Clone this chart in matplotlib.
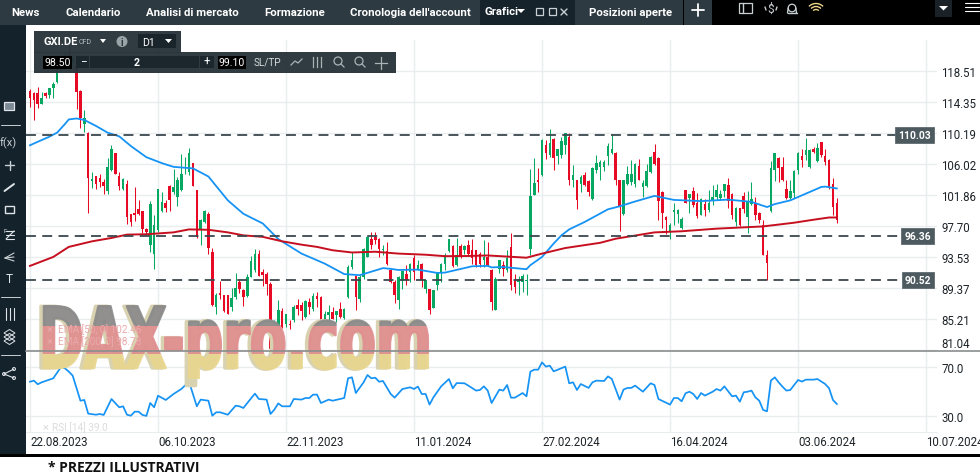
import matplotlib
matplotlib.use("Agg")
import matplotlib.pyplot as plt
from matplotlib.patches import Rectangle, Circle, Arc
from matplotlib.patheffects import AbstractPathEffect
from matplotlib.transforms import Affine2D

plt.rcParams['font.family'] = ['Roboto', 'DejaVu Sans']

W, H = 980, 477

# candles, one row of ten per line
OPENS = [
    115.9, 115.66, 115.66, 114.2, 115.6, 115.35, 116.25, 117.1, 118.6, 120.0,
    120.8, 119.8, 119.2, 115.9, 111.45, 110.3, 103.8, 104.5, 104.2, 103.7,
    102.4, 105.26, 107.5, 104.45, 102.7, 103.35, 99.35, 99.55, 100.0, 99.75,
    97.4, 95.2, 94.05, 97.2, 99.75, 100.9, 103.15, 102.35, 101.7, 102.6,
    105.5, 105.0, 106.2, 102.6, 97.4, 98.3, 99.4, 94.2, 86.9, 88.75,
    88.45, 88.45, 86.9, 88.2, 90.3, 89.1, 88.3, 90.9, 91.8, 94.0,
    91.6, 91.35, 90.0, 82.2, 84.0, 86.4, 84.65, 84.65, 85.1, 87.1,
    87.1, 85.55, 87.55, 86.65, 88.3, 88.2, 84.9, 85.75, 86.2, 85.85,
    86.55, 85.4, 88.2, 92.25, 91.05, 88.0, 90.9, 93.6, 96.05, 96.3,
    96.05, 94.5, 94.4, 91.9, 90.25, 87.85, 90.45, 91.35, 91.6, 93.4,
    91.8, 92.7, 89.35, 89.25, 86.8, 89.8, 91.45, 92.7, 94.4, 95.05,
    92.5, 95.05, 94.5, 95.15, 94.6, 94.5, 94.05, 93.25, 93.6, 91.9,
    86.5, 92.0, 92.5, 91.9, 94.95, 90.45, 90.25, 90.25, 90.4, 94.7,
    101.9, 104.0, 104.6, 108.65, 107.3, 109.5, 107.15, 107.3, 108.6, 109.65,
    103.9, 103.9, 103.45, 104.6, 103.85, 101.45, 105.25, 105.7, 105.7, 107.15,
    107.6, 107.6, 103.9, 99.35, 103.45, 103.7, 103.45, 105.8, 103.0, 103.1,
    105.05, 107.75, 106.9, 102.35, 99.0, 97.1, 99.65, 99.43, 97.5, 102.55,
    101.55, 102.45, 100.8, 99.3, 100.65, 99.9, 101.1, 101.65, 101.55, 102.45,
    103.3, 102.1, 98.3, 100.2, 101.8, 99.0, 100.65, 100.9, 99.55, 97.85,
    93.9, 99.75, 105.25, 106.9, 105.7, 102.7, 101.55, 102.25, 105.25, 107.2,
    107.35, 105.7, 108.1, 106.45, 109.05, 107.2, 106.6, 103.45, 100.8,
]
HIGHS = [
    116.15, 115.8, 116.4, 115.8, 115.8, 116.3, 117.05, 119.2, 120.5, 121.0,
    121.9, 120.8, 120.3, 116.0, 113.4, 110.4, 105.0, 104.5, 104.8, 104.1,
    106.9, 108.6, 107.6, 105.0, 104.2, 103.9, 99.4, 103.0, 101.2, 99.8,
    97.5, 101.1, 99.2, 102.7, 102.35, 101.2, 103.25, 105.4, 104.4, 107.4,
    107.0, 108.2, 106.2, 102.6, 98.75, 99.9, 99.65, 94.8, 88.7, 90.4,
    88.5, 88.5, 89.4, 91.5, 90.7, 89.25, 91.35, 93.75, 94.7, 94.5,
    92.0, 91.6, 90.2, 85.1, 87.8, 86.7, 86.0, 85.1, 87.1, 88.0,
    87.55, 87.8, 88.1, 88.7, 88.9, 88.3, 86.3, 87.1, 86.9, 86.3,
    87.5, 86.7, 92.5, 94.3, 91.05, 91.2, 94.8, 96.4, 96.95, 96.95,
    96.1, 95.2, 95.6, 92.0, 90.45, 91.0, 91.7, 92.5, 92.8, 93.8,
    93.25, 92.8, 90.5, 89.3, 89.2, 91.6, 92.8, 94.1, 96.05, 95.2,
    96.2, 95.4, 95.2, 95.9, 96.05, 94.6, 94.2, 95.85, 95.6, 92.0,
    90.9, 93.2, 93.0, 94.6, 96.75, 91.35, 91.1, 91.35, 91.35, 105.35,
    106.85, 105.5, 109.5, 109.3, 110.85, 109.6, 108.1, 109.75, 110.3, 110.2,
    105.95, 103.95, 104.6, 105.05, 103.9, 105.7, 107.3, 106.6, 106.6, 108.85,
    110.1, 107.7, 104.0, 103.95, 105.8, 106.6, 106.2, 106.7, 103.9, 106.15,
    107.2, 108.75, 107.0, 102.4, 99.1, 98.1, 100.85, 100.0, 98.9, 102.6,
    102.05, 103.0, 102.25, 101.55, 101.45, 102.55, 103.25, 103.45, 102.55, 103.45,
    104.15, 102.2, 100.25, 100.2, 102.35, 102.45, 103.7, 101.65, 99.6, 98.55,
    94.5, 106.5, 107.6, 107.05, 107.05, 103.9, 104.0, 105.3, 107.65, 108.15,
    109.6, 108.15, 108.4, 108.85, 109.05, 108.15, 106.7, 104.2, 101.55,
]
LOWS = [
    113.7, 112.0, 113.6, 114.1, 115.0, 114.9, 115.0, 116.9, 118.4, 119.5,
    119.5, 119.5, 113.5, 110.9, 110.4, 99.5, 102.8, 102.7, 103.0, 102.0,
    102.0, 105.2, 104.8, 102.6, 102.6, 98.0, 97.7, 98.4, 99.2, 96.75,
    96.5, 94.2, 91.95, 97.0, 99.65, 99.6, 99.75, 102.1, 100.5, 102.5,
    104.8, 104.6, 103.15, 96.1, 95.25, 98.2, 94.05, 87.0, 86.0, 87.9,
    86.2, 85.9, 86.4, 88.0, 88.7, 87.0, 88.2, 90.9, 91.6, 91.0,
    89.7, 88.45, 81.0, 81.2, 83.7, 84.1, 84.2, 83.95, 84.9, 85.75,
    85.1, 85.4, 86.0, 86.4, 86.9, 84.2, 84.2, 85.1, 85.2, 84.85,
    85.4, 85.3, 88.1, 92.0, 86.45, 87.5, 90.7, 93.6, 94.7, 95.3,
    93.6, 93.8, 92.5, 90.1, 87.4, 86.65, 89.35, 89.8, 90.25, 90.45,
    91.8, 89.6, 88.7, 86.0, 86.7, 89.1, 90.25, 91.8, 94.3, 92.2,
    92.4, 93.4, 94.05, 93.7, 92.7, 92.3, 92.3, 92.25, 92.35, 86.5,
    86.5, 91.4, 91.1, 91.6, 89.1, 88.75, 88.45, 88.9, 88.45, 93.9,
    101.9, 102.35, 104.45, 106.8, 107.05, 105.25, 106.15, 106.95, 107.4, 103.25,
    103.0, 100.0, 102.35, 103.1, 101.75, 101.25, 104.9, 103.9, 105.2, 105.95,
    107.4, 103.25, 97.05, 99.25, 103.3, 103.25, 103.0, 103.9, 101.6, 103.0,
    104.9, 106.0, 98.5, 97.55, 96.65, 96.05, 97.85, 98.2, 97.4, 100.9,
    99.45, 100.3, 98.85, 99.2, 99.1, 99.65, 100.55, 101.2, 101.2, 101.65,
    100.2, 98.75, 97.8, 97.8, 99.45, 96.85, 100.55, 98.55, 98.1, 93.9,
    90.45, 99.7, 103.8, 103.7, 103.8, 101.45, 101.45, 101.55, 104.7, 105.7,
    106.6, 105.6, 107.5, 106.35, 107.0, 106.0, 102.7, 99.2, 98.1,
]
CLOSES = [
    114.9, 114.7, 114.2, 115.0, 115.2, 116.25, 116.85, 118.7, 120.0, 120.8,
    120.0, 120.4, 115.8, 112.2, 112.2, 104.2, 104.1, 103.35, 103.7, 103.15,
    105.7, 108.04, 104.8, 103.1, 104.05, 99.0, 98.3, 99.2, 99.35, 97.3,
    97.0, 100.7, 97.9, 102.7, 101.0, 100.2, 101.25, 103.0, 103.9, 104.8,
    105.7, 107.6, 103.15, 96.3, 98.5, 99.75, 94.8, 87.1, 88.45, 88.45,
    86.3, 86.0, 88.1, 89.4, 89.35, 88.2, 90.9, 93.0, 94.05, 91.05,
    91.2, 90.0, 81.2, 83.7, 86.5, 84.2, 85.95, 84.4, 86.9, 86.65,
    86.4, 87.65, 86.9, 88.3, 88.0, 85.1, 86.0, 86.2, 85.3, 86.3,
    85.55, 86.65, 92.25, 93.15, 88.2, 90.9, 94.7, 96.3, 95.15, 95.85,
    94.7, 94.7, 92.7, 90.25, 88.45, 90.9, 91.65, 90.45, 92.7, 91.6,
    92.5, 90.45, 90.45, 86.5, 89.2, 91.55, 92.7, 93.8, 95.95, 92.35,
    93.8, 93.6, 95.05, 94.05, 93.4, 92.5, 92.7, 93.6, 92.5, 87.55,
    90.7, 93.15, 92.0, 93.4, 89.8, 89.55, 90.7, 91.1, 90.55, 101.75,
    103.55, 103.7, 109.3, 107.5, 108.95, 106.85, 108.05, 109.2, 110.2, 103.9,
    104.6, 101.25, 104.4, 103.25, 102.35, 105.6, 106.25, 106.4, 106.4, 108.5,
    108.05, 103.9, 100.3, 103.9, 104.8, 104.8, 106.15, 104.0, 103.55, 105.15,
    107.05, 106.1, 101.1, 99.5, 98.6, 97.85, 99.95, 99.97, 98.75, 100.9,
    102.0, 100.55, 99.1, 101.45, 99.9, 100.8, 101.65, 102.55, 102.0, 103.45,
    101.1, 99.3, 100.2, 97.85, 100.1, 101.1, 101.35, 99.3, 98.55, 93.9,
    92.85, 105.5, 107.6, 105.5, 103.9, 101.55, 102.45, 105.15, 107.5, 106.6,
    107.95, 107.95, 107.65, 108.25, 107.35, 106.4, 103.0, 100.3, 98.55,
]

EMA50_IDX = [0, 2, 5, 7, 9, 10, 12, 14, 17, 20, 23, 26, 30, 34, 37, 42, 46, 51, 55, 60, 64, 70,
             76, 81, 85, 91, 93, 95, 100, 105, 107, 114, 118, 119, 122, 125, 128, 129, 132,
             135, 137, 139, 143, 149, 152, 156, 161, 166, 173, 180, 186, 190, 192, 196, 204, 205, 208]
EMA50 = [108.6, 109.07, 109.75, 110.3, 111.45, 112.07, 112.2, 112.0, 111.2, 110.3, 109.8, 108.5,
         107.0, 106.2, 105.7, 105.5, 104.4, 101.2, 99.4, 98.1, 96.0, 94.05,
         92.7, 91.3, 91.15, 92.1, 92.0, 91.85, 91.9, 91.45, 91.5, 92.35, 92.4, 92.2, 92.25, 92.1,
         91.95, 92.5, 93.6, 95.4, 96.5, 97.3, 98.3, 100.0, 100.4, 101.05, 101.8, 101.26, 101.1,
         101.3, 101.0, 100.3, 100.7, 101.2, 103.0, 103.05, 102.8]

EMA200_IDX = [0, 6, 10, 16, 21, 25, 30, 37, 41, 46, 51, 55, 60, 65, 70, 74, 78, 83, 89, 95, 102,
              107, 113, 118, 123, 128, 132, 138, 147, 151, 161, 168, 177, 189, 197, 202, 206, 208]
EMA200 = [92.4, 93.6, 94.95, 95.7, 96.15, 96.6, 96.65, 96.9, 97.3, 97.25, 96.9, 96.5, 96.3, 95.7,
          95.25, 94.95, 94.5, 94.2, 94.3, 94.05, 93.9, 93.7, 93.73, 93.8, 93.65, 93.5, 94.05,
          94.8, 95.5, 96.05, 96.9, 97.05, 97.4, 97.7, 98.2, 98.6, 98.9, 98.9]

RSI_IDX = [0, 1, 2, 3, 6, 8, 9, 10, 11, 13, 14, 15, 17, 18, 19, 21, 23, 24, 25, 26, 27, 28, 29, 30, 31,
           32, 33, 35, 37, 39, 41, 43, 44, 46, 47, 48, 49, 51, 53, 54, 55, 57, 58, 59, 61, 62, 63, 64, 65,
           67, 68, 70, 71, 72, 73, 74, 75, 77, 78, 81, 82, 83, 84, 86, 87, 88, 89, 90, 91, 93, 94, 96, 98,
           99, 100, 101, 102, 103, 104, 106, 108, 109, 110, 112, 113, 115, 116, 117, 118, 119, 121, 122,
           123, 124, 125, 127, 128, 129, 130, 131, 132, 133, 134, 135, 138, 139, 140, 141, 142, 144, 145,
           146, 148, 149, 150, 152, 153, 154, 155, 156, 158, 160, 161, 162, 165, 166, 167, 168, 169, 170,
           171, 172, 173, 174, 176, 177, 178, 179, 181, 182, 183, 184, 185, 186, 187, 188, 189, 190, 191,
           192, 193, 194, 195, 196, 198, 199, 200, 202, 203, 205, 206, 207, 208]
RSI = [57.9, 58.8, 55.8, 57.4, 60.7, 70.0, 68.9, 66.2, 62.9, 42.3, 42.9, 31.7, 30.8, 31.4, 30.6, 43.7,
       36.9, 37.7, 30.8, 30.0, 33.3, 33.3, 30.6, 29.8, 40.4, 36.9, 46.4, 42.9, 47.8, 51.9, 57.9, 37.7,
       43.2, 42.3, 30.0, 32.8, 32.8, 30.8, 38.2, 37.7, 36.3, 44.3, 48.1, 43.7, 43.2, 31.4, 35.0, 40.1,
       37.7, 37.7, 43.7, 43.2, 44.5, 44.5, 47.3, 47.3, 40.4, 43.2, 42.3, 44.5, 60.7, 61.5, 48.6, 57.4,
       63.4, 60.7, 61.2, 57.9, 58.5, 47.8, 44.8, 51.9, 53.3, 51.9, 53.9, 47.8, 47.8, 39.1, 45.1, 54.1,
       60.1, 52.5, 56.8, 56.6, 54.7, 50.6, 51.1, 54.1, 50.6, 40.4, 51.4, 50.6, 55.2, 44.8, 44.8, 48.6,
       45.9, 66.2, 67.8, 67.8, 73.8, 70.3, 71.1, 66.4, 70.3, 56.6, 57.4, 51.1, 56.0, 52.8, 57.4, 58.8,
       58.5, 62.3, 60.1, 43.2, 51.4, 52.8, 52.8, 54.7, 49.7, 56.6, 55.2, 43.7, 39.1, 44.5, 44.5, 41.8,
       48.4, 49.7, 47.8, 43.7, 48.6, 46.5, 49.7, 51.9, 50.6, 54.1, 45.9, 46.5, 41.5, 49.2, 49.7, 50.6,
       45.1, 42.3, 34.7, 33.6, 58.8, 61.5, 57.4, 53.8, 50.6, 51.1, 59.3, 58.0, 59.6, 59.6, 60.1, 56.0,
       52.5, 42.9, 39.6]

PRICE_TICKS = [118.51, 114.35, 110.19, 106.02, 101.86, 97.70, 93.53, 89.37, 85.21, 81.04]
LEVELS = [110.03, 96.36, 90.52]
RSI_TICKS = [70.0, 30.0]
DATE_IDX = [0, 33, 66, 99, 132, 165, 198, 231]
DATE_LABELS = ['22.08.2023', '06.10.2023', '22.11.2023', '11.01.2024',
               '27.02.2024', '16.04.2024', '03.06.2024', '10.07.2024']
TABS = ['News', 'Calendario', 'Analisi di mercato', 'Formazione', "Cronologia dell'account"]
TAB_X = [11, 65, 146, 264, 350]

GREEN = '#06a862'
RED = '#e60a24'
GRID = '#e9edef'
DARK = '#14222c'
BAR = '#2d3a42'
TICK = '#1d2429'
SLATE = '#3c484e'


class Stretch(AbstractPathEffect):
    # squeeze the glyphs sideways and fatten them, no installed font has this shape
    def __init__(self, x0, sx, stroke):
        self.x0, self.sx, self.stroke = x0, sx, stroke

    def draw_path(self, renderer, gc, tpath, affine, rgbFace=None):
        squeeze = Affine2D().translate(-self.x0, 0).scale(self.sx, 1).translate(self.x0, 0)
        gc0 = renderer.new_gc()
        gc0.copy_properties(gc)
        gc0.set_linewidth(self.stroke)
        gc0.set_foreground(rgbFace)
        renderer.draw_path(gc0, tpath, affine + squeeze, rgbFace)
        gc0.restore()


def px_axes(fig, left, top, right, bottom, **kw):
    return fig.add_axes([left / W, 1 - bottom / H, (right - left) / W, (bottom - top) / H], **kw)


def draw_candles(ax):
    for i in range(len(OPENS)):
        col = GREEN if CLOSES[i] >= OPENS[i] else RED
        ax.vlines(i, LOWS[i], HIGHS[i], color=col, lw=0.75, zorder=3)
        ax.bar(i, abs(CLOSES[i] - OPENS[i]), 0.66, bottom=min(OPENS[i], CLOSES[i]),
               color=col, linewidth=0, zorder=3)


fig = plt.figure(figsize=(W / 100, H / 100), dpi=100, facecolor='white')

x_left = (26 - 30) / 3.879
x_right = (937 - 30) / 3.879

# price panel
ax = px_axes(fig, 26, 41, 937, 352.5, zorder=1)
ax.set_xlim(x_left, x_right)
ax.set_ylim(80.9, 122.74)
ax.set_xticks(DATE_IDX)
ax.tick_params(axis='x', length=0, labelbottom=False)
ax.yaxis.tick_right()
ax.set_yticks(PRICE_TICKS)
ax.set_yticklabels([f'{t:.2f}' for t in PRICE_TICKS])
ax.tick_params(axis='y', length=0, pad=3, labelsize=8.3, labelcolor=TICK)
ax.get_yticklabels()[-1].set_verticalalignment('bottom')
ax.grid(True, color=GRID, lw=1.0, zorder=0)
ax.set_axisbelow(True)
for s in ax.spines.values():
    s.set_visible(False)

draw_candles(ax)
ax.plot(EMA50_IDX, EMA50, color='#1593f5', lw=1.3, zorder=4)
ax.plot(EMA200_IDX, EMA200, color='#c60f1f', lw=1.4, zorder=4)

level_end = [223.5, 224.5, 224.5]
for lvl, end in zip(LEVELS, level_end):
    ax.hlines(lvl, x_left, end, color=SLATE, lw=1.3, linestyles=(0, (5.5, 3.5)), zorder=5)
    ax.text(232.3, lvl, f'{lvl:.2f}', color='white', fontsize=7.4, fontweight='bold', ha='right', va='center',
            zorder=6, bbox=dict(boxstyle='square,pad=0.3', fc='#4d5a60', ec='#5f6b71', lw=0.6))

# RSI panel
ax2 = px_axes(fig, 26, 353, 937, 433, zorder=1)
ax2.set_xlim(x_left, x_right)
ax2.set_ylim(16.6, 82.3)
ax2.set_xticks(DATE_IDX)
ax2.set_xticklabels(DATE_LABELS, ha='left')
ax2.tick_params(axis='x', length=0, pad=2.5, labelsize=8.3, labelcolor=TICK)
ax2.yaxis.tick_right()
ax2.set_yticks(RSI_TICKS)
ax2.set_yticklabels([f'{t:.1f}' for t in RSI_TICKS])
ax2.tick_params(axis='y', length=0, pad=3, labelsize=8.3, labelcolor=TICK)
ax2.grid(True, color=GRID, lw=1.0, zorder=0)
ax2.set_axisbelow(True)
for name, s in ax2.spines.items():
    s.set_visible(name == 'bottom')
    s.set_color(GRID)
for lab in ax2.get_xticklabels():
    lab.set_clip_on(False)
ax2.plot(RSI_IDX, RSI, color='#1593f5', lw=1.25, zorder=3)

# window chrome, in screen pixels
ov = fig.add_axes([0, 0, 1, 1], zorder=5)
ov.set_xlim(0, W)
ov.set_ylim(H, 0)
ov.axis('off')


def rect(x0, y0, x1, y1, color, **kw):
    ov.add_patch(Rectangle((x0, y0), x1 - x0, y1 - y0, fc=color, ec='none', **kw))


def seg(xs, ys, color='#c9d0d4', lw=1.0):
    ov.plot(xs, ys, color=color, lw=lw, solid_capstyle='round')


# watermark, flag colours over the chart marks
bands = [(300, 327, '#8b8b8b'), (327, 355, '#e08f90'), (355, 380, '#e8d68f')]
ov.text(36, 369, 'DAX-pro.com', fontsize=61, fontweight='bold', family='DejaVu Sans', color='#d9d2b0',
        va='baseline', ha='left', path_effects=[Stretch(36, 0.635, 2.4)], zorder=1)
for y0, y1, col in bands:
    t = ov.text(39, 369, 'DAX-pro.com', fontsize=61, fontweight='bold', family='DejaVu Sans', color=col,
                va='baseline', ha='left', path_effects=[Stretch(39, 0.635, 1.8)], zorder=2, alpha=0.92)
    clip = Rectangle((30, y0), 410, y1 - y0, transform=ov.transData)
    t.set_clip_path(clip)
    t.set_clip_on(True)

ov.plot([26, W], [352, 352], color='#8a8d8d', lw=1.2, zorder=3)
ov.text(58, 329.5, 'EMA [50, 0] 102.46', fontsize=7.2, color='#e9a9aa', va='center', zorder=4)
ov.text(58, 341.5, 'EMA [200, 0] 98.78', fontsize=7.2, color='#e9a9aa', va='center', zorder=4)
ov.text(52, 427.5, 'RSI [14] 39.0', fontsize=7.2, color='#dcdcdc', va='center', zorder=4)
ov.text(43, 427, '×', fontsize=8, color='#dcdcdc', va='center', zorder=4)
ov.text(47, 329.5, '×', fontsize=8, color='#e9a9aa', va='center', zorder=4)
ov.text(47, 341.5, '×', fontsize=8, color='#e9a9aa', va='center', zorder=4)

# top bar
rect(0, 0, W, 25.5, 'black')
rect(0, 0, 480, 25.5, BAR)
rect(480, 0, 575, 25.5, '#17232b')
rect(575, 0, 683, 25.5, BAR)
rect(684, 0, 712, 25.5, BAR)
rect(935, 0, 952, 18, '#1a2228')
for label, x in zip(TABS, TAB_X):
    ov.text(x, 12.5, label, color='white', fontsize=8.2, fontweight='bold', va='center')
ov.text(484, 12, 'Grafici', color='white', fontsize=8.2, fontweight='bold', va='center')
ov.text(589, 12.5, 'Posizioni aperte', color='white', fontsize=8.2, fontweight='bold', va='center')
ov.fill([517, 525, 521], [10, 10, 14], color='white', lw=0)
ov.fill([939, 948, 943.5], [7, 7, 11.5], color='white', lw=0)
ov.add_patch(Rectangle((536, 9), 7, 7, fc='none', ec='#c9d0d4', lw=0.9))
ov.add_patch(Rectangle((549, 9), 7, 7, fc='none', ec='#c9d0d4', lw=0.9))
seg([561, 567], [10, 16])
seg([561, 567], [16, 10])
seg([692, 704], [11, 11], 'white', 1.3)
seg([698, 698], [5, 17], 'white', 1.3)
ov.add_patch(Rectangle((738.5, 4), 13, 10, fc='none', ec='#c9d0d4', lw=0.9))
seg([743, 743], [4, 14])
ov.text(771, 9.5, '$', color='#c9d0d4', fontsize=8.5, ha='center', va='center')
seg([765, 766], [8, 11])
seg([777, 776], [8, 11])
ov.add_patch(Circle((792, 9), 3.8, fc='none', ec='#c9d0d4', lw=0.9))
seg([787.5, 796.5], [14, 14])
seg([787.5, 788.2], [14, 9])
seg([796.5, 795.8], [14, 9])
for r in [10, 7, 4]:
    ov.add_patch(Arc((816, 14.5), 2 * r, 2 * r, theta1=225, theta2=315, color='#ecd28a', lw=1.0))
for yy in [4, 8, 12]:
    seg([965, 979], [yy, yy], 'white', 0.8)

# left tool strip
rect(0, 25.5, 25.5, 455, DARK)
for yy in [126, 298, 356]:
    seg([1, 20], [yy, yy], '#c9d0d4', 0.7)
ov.add_patch(Rectangle((4, 103), 10, 8, fc='#7c8a96', ec='#dfe4e8', lw=0.9))
ov.text(8, 143, 'f(x)', color='#c9d0d4', fontsize=8, ha='center', va='center')
seg([5, 14], [166, 166])
seg([9.5, 9.5], [161.5, 170.5])
seg([4.5, 14], [192, 185], '#dfe4e8', 1.4)
ov.add_patch(Rectangle((4.5, 207), 9.5, 7, fc='none', ec='#dfe4e8', lw=1.0))
for yy in [232, 236, 240]:
    seg([6, 14], [yy, yy], '#dfe4e8', 0.8)
seg([6, 14], [240, 232], '#dfe4e8', 0.8)
ov.text(5, 232, 'F', color='#dfe4e8', fontsize=4.5, ha='center', va='center')
seg([5, 14], [259, 254], '#c9d0d4', 0.8)
seg([5, 14], [259, 258], '#c9d0d4', 0.8)
seg([5, 14], [259, 262], '#c9d0d4', 0.8)
ov.text(9, 280, 'T', color='#dfe4e8', fontsize=8.5, ha='center', va='center')
for x0 in [5.5, 9.5, 13.5]:
    seg([x0, x0], [309, 321], '#dfe4e8', 0.8)
for yy in [334, 338, 342]:
    ov.fill([4, 9.5, 15, 9.5], [yy, yy - 3.5, yy, yy + 3.5], fc='none', ec='#dfe4e8', lw=0.7)
seg([4, 14], [375, 370], '#dfe4e8', 0.8)
seg([4, 14], [375, 379], '#dfe4e8', 0.8)
for cx, cy in [(4, 375), (14, 370), (14, 379)]:
    ov.add_patch(Circle((cx, cy), 1.5, fc=DARK, ec='#dfe4e8', lw=0.7))

# order ticket over the chart
TOOL = '#29353b'
rect(34, 32, 181, 54, TOOL, alpha=0.97, zorder=6)
rect(34, 53, 396, 73.5, TOOL, alpha=0.97, zorder=6)
rect(138, 35, 176, 49, '#1a252b', zorder=7)
rect(43, 56.5, 72, 70, 'black', zorder=7)
rect(218, 56.5, 246, 70, 'black', zorder=7)
rect(76, 57, 89, 69, '#1c272d', zorder=7)
rect(90, 57, 199, 69, '#1c272d', zorder=7)
rect(200, 57, 214, 69, '#1c272d', zorder=7)
kw = dict(color='white', va='center', zorder=8)
ov.text(43, 42, 'GXI.DE', fontsize=8.0, fontweight='bold', **kw)
ov.text(79, 42.5, 'CFD', fontsize=5.0, color='#b6bec2', va='center', zorder=8)
ov.fill([100, 106, 103], [40, 40, 44], color='white', lw=0, zorder=8)
ov.add_patch(Circle((122, 42.5), 5.5, fc='#9aa3a8', ec='none', zorder=8))
ov.text(122, 42.5, 'i', fontsize=7, fontweight='bold', color=TOOL, ha='center', va='center', zorder=9)
ov.text(142, 42.5, 'D1', fontsize=7.6, **kw)
ov.fill([165, 172, 168.5], [40, 40, 44], color='white', lw=0, zorder=8)
ov.text(57.5, 63, '98.50', fontsize=7.6, ha='center', **kw)
ov.text(232, 63, '99.10', fontsize=7.6, ha='center', **kw)
ov.text(137, 63, '2', fontsize=7.6, fontweight='bold', ha='center', **kw)
ov.text(83, 62.5, '−', fontsize=8.5, ha='center', **kw)
ov.text(207, 62.5, '+', fontsize=8.5, ha='center', **kw)
ov.text(267, 62.5, 'SL/TP', fontsize=7.2, color='#d6dbde', ha='center', va='center', zorder=8)
ov.plot([291, 295, 298, 302], [66, 62, 64, 60], color='#aab3b8', lw=0.9, zorder=8)
for x0 in [313, 317, 321]:
    ov.plot([x0, x0], [58, 68], color='#aab3b8', lw=0.9, zorder=8)
for cx in [338, 359]:
    ov.add_patch(Circle((cx, 62), 4, fc='none', ec='#aab3b8', lw=0.9, zorder=8))
    ov.plot([cx + 3, cx + 6], [65, 68], color='#aab3b8', lw=0.9, zorder=8)
ov.plot([375, 387], [64, 64], color='#aab3b8', lw=0.9, zorder=8)
ov.plot([381, 381], [58, 70], color='#aab3b8', lw=0.9, zorder=8)

# bottom strip and footnote
rect(0, 455, W, 457.5, 'black', zorder=6)
ov.text(48, 468, '* PREZZI ILLUSTRATIVI', fontsize=10, fontweight='bold', family='Open Sans',
        color='#111111', va='center', zorder=8)

fig.savefig('out.png', dpi=100)
